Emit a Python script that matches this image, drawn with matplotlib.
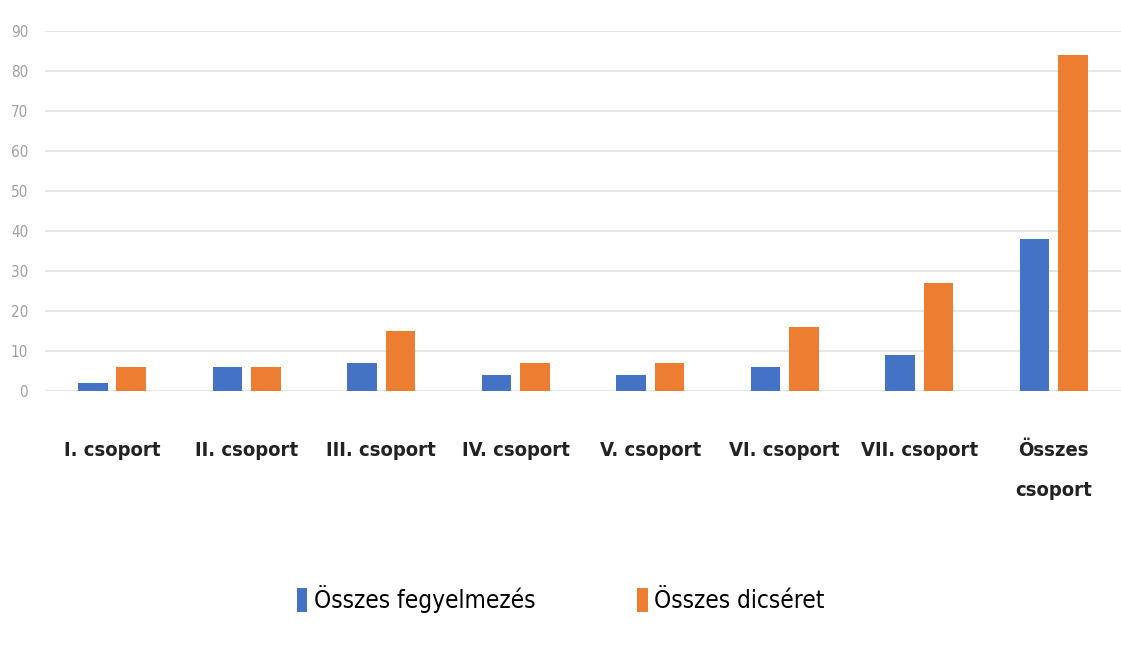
import matplotlib.pyplot as plt
import numpy as np

plt.rcParams['font.family'] = ['DejaVu Sans']
plt.rcParams['font.stretch'] = 'condensed'

categories = ['I. csoport', 'II. csoport', 'III. csoport', 'IV. csoport',
              'V. csoport', 'VI. csoport', 'VII. csoport', 'Összes\ncsoport']
fegyelmezes = [2, 6, 7, 4, 4, 6, 9, 38]
dicseret = [6, 6, 15, 7, 7, 16, 27, 84]

fig = plt.figure(figsize=(11.21, 6.48), dpi=100)
ax = fig.add_axes([0.04, 0.397, 0.96, 0.555])

x = np.arange(len(categories))
w = 0.22
gap = 0.065
ax.bar(x - (w + gap) / 2, fegyelmezes, w, color='#4472c4', label='Összes fegyelmezés', zorder=3)
ax.bar(x + (w + gap) / 2, dicseret, w, color='#ed7d31', label='Összes dicséret', zorder=3)

ax.set_xlim(-0.5, len(categories) - 0.5)
ax.set_ylim(0, 90)
ax.set_yticks(range(0, 91, 10))
ax.yaxis.grid(True, color='#e6e6e6', linewidth=1.5, zorder=0)
ax.set_axisbelow(True)
for s in ax.spines.values():
    s.set_visible(False)
ax.tick_params(axis='both', length=0)
ax.tick_params(axis='y', labelsize=11, labelcolor='#a0a0a0', pad=12)

ax.set_xticks(x)
ax.set_xticklabels(categories, fontsize=14.5, fontweight='bold', color='#222222',
                   va='top', linespacing=2.4)
ax.tick_params(axis='x', pad=36)

fig.legend(loc='center', bbox_to_anchor=(0.5, 0.075), ncol=2, frameon=False,
           fontsize=17.5, handlelength=0.45, handleheight=1.1, handletextpad=0.25,
           columnspacing=4.2)

fig.savefig('out.png', dpi=100, facecolor='white')
